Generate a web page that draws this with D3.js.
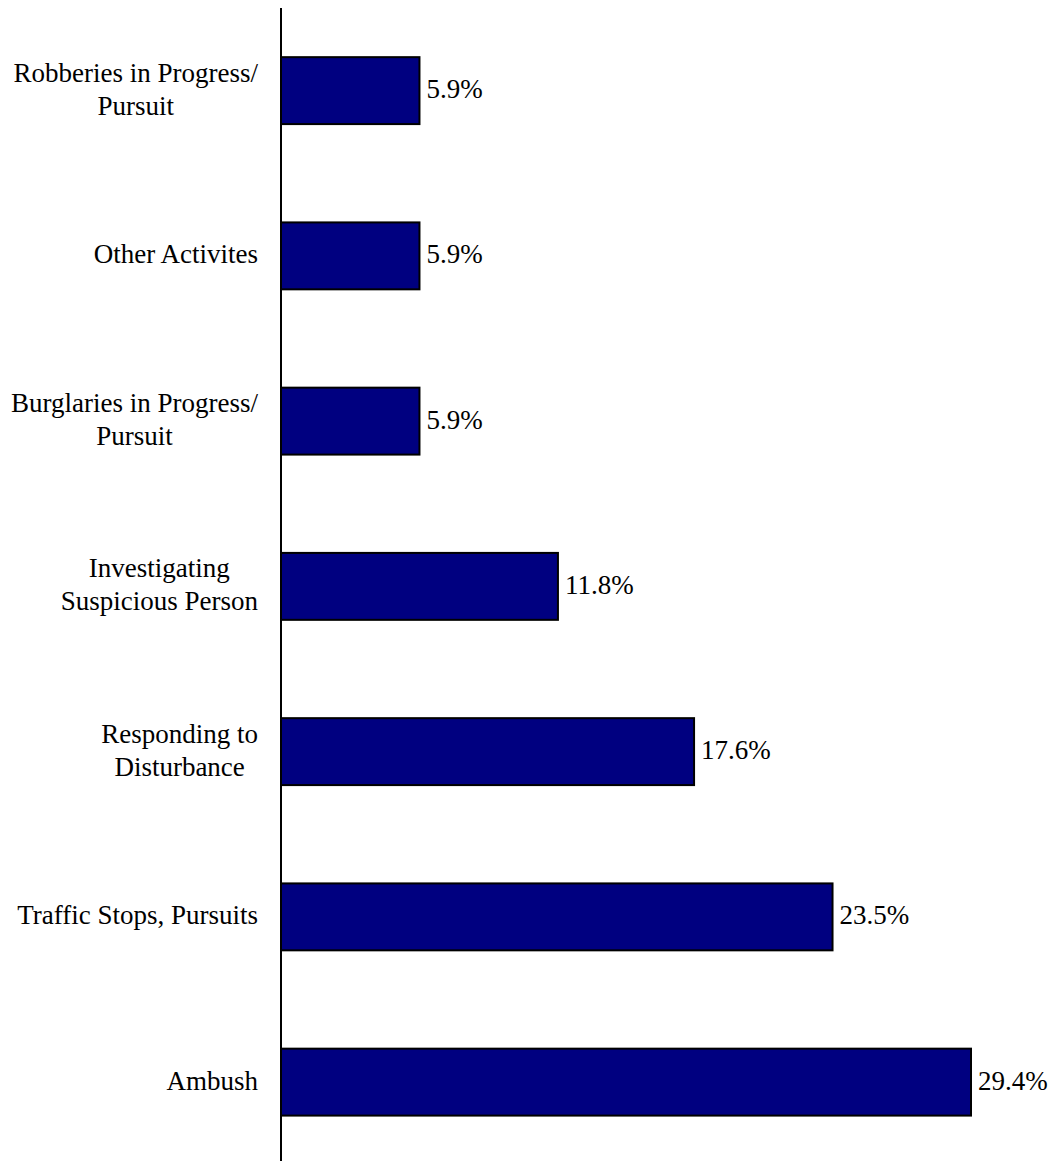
<!DOCTYPE html>
<html>
<head>
<meta charset="utf-8">
<script src="https://cdn.jsdelivr.net/npm/d3@7"></script>
<style>
  html, body { margin: 0; padding: 0; background: #fff; }
  svg { display: block; }
</style>
</head>
<body>
<div id="chart"></div>
<script>
const categories = [
  ["Robberies in Progress/", "Pursuit"],
  ["Other Activites"],
  ["Burglaries in Progress/", "Pursuit"],
  ["Investigating", "Suspicious Person"],
  ["Responding to", "Disturbance"],
  ["Traffic Stops, Pursuits"],
  ["Ambush"]
];
const values = [5.9, 5.9, 5.9, 11.8, 17.6, 23.5, 29.4];
const valueLabels = ["5.9%", "5.9%", "5.9%", "11.8%", "17.6%", "23.5%", "29.4%"];

const W = 1055, H = 1161;
const svg = d3.select("#chart").append("svg").attr("width", W).attr("height", H);

const x = d3.scaleLinear().domain([0, 29.4]).range([281, 971]);
const y = d3.scaleBand().domain(d3.range(categories.length)).range([8, 1164.75])
  .paddingInner(0.595).paddingOuter(0.2975);

const font = "'Liberation Serif', 'Times New Roman', serif";
const fs = 27;
const baseOff = 7.5;

// bars
svg.append("g").selectAll("rect").data(values).join("rect")
  .attr("x", x(0))
  .attr("y", (d, i) => y(i))
  .attr("width", d => x(d) - x(0))
  .attr("height", y.bandwidth())
  .attr("fill", "#000080")
  .attr("stroke", "#000")
  .attr("stroke-width", 2);

// value labels
svg.append("g").selectAll("text").data(values).join("text")
  .attr("x", d => x(d) + 7)
  .attr("y", (d, i) => y(i) + y.bandwidth() / 2 + baseOff)
  .attr("font-family", font)
  .attr("font-size", fs)
  .attr("fill", "#000")
  .text((d, i) => valueLabels[i]);

// category labels
const lineH = 33;
const rightEdge = 258;
const catG = svg.append("g");
categories.forEach((lines, i) => {
  const cy = y(i) + y.bandwidth() / 2;
  const t = catG.append("text")
    .attr("font-family", font)
    .attr("font-size", fs)
    .attr("fill", "#000")
    .attr("text-anchor", "middle");
  const tspans = lines.map((ln, k) => t.append("tspan")
    .attr("y", cy + baseOff + (k - (lines.length - 1) / 2) * lineH)
    .text(ln));
  const maxW = d3.max(tspans, s => s.node().getComputedTextLength());
  tspans.forEach(s => s.attr("x", rightEdge - maxW / 2));
});

// axis line
svg.append("line")
  .attr("x1", x(0)).attr("x2", x(0))
  .attr("y1", 8).attr("y2", H)
  .attr("stroke", "#000").attr("stroke-width", 2);
</script>
</body>
</html>
